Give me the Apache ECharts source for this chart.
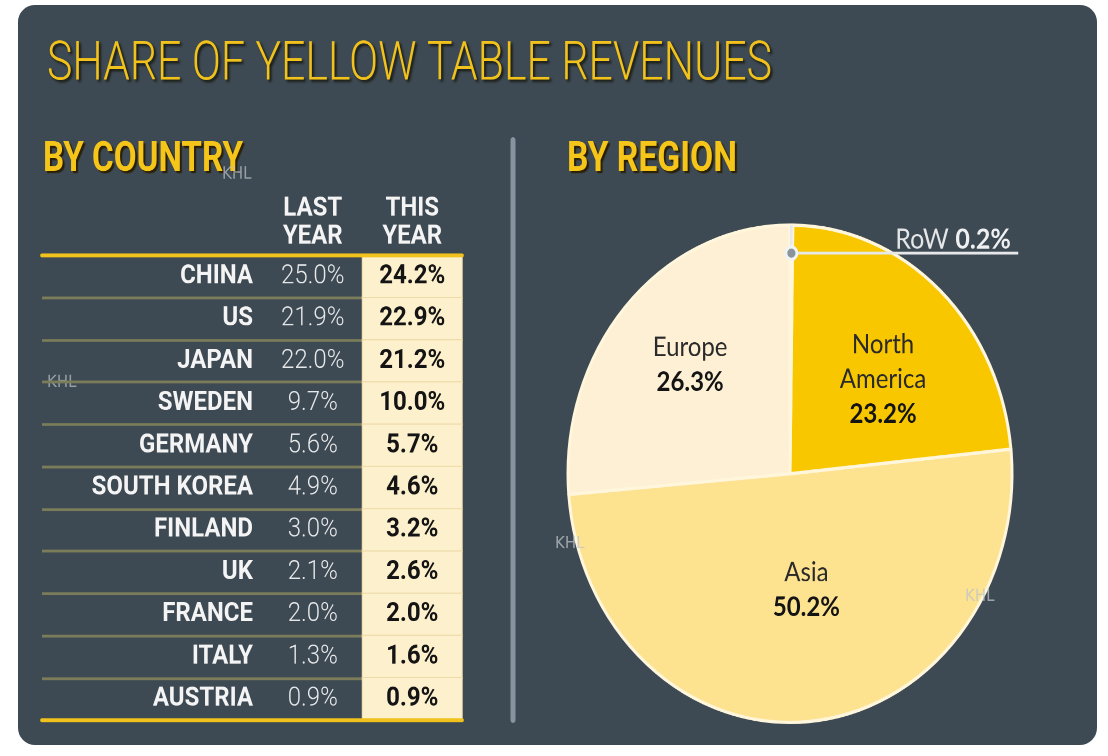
<!DOCTYPE html>
<html><head><meta charset="utf-8">
<script src="https://cdn.jsdelivr.net/npm/echarts@6/dist/echarts.min.js"></script>
<style>
html,body{margin:0;padding:0;background:#fff;overflow:hidden;width:1108px;height:756px;position:relative}
#panel{position:absolute;left:18px;top:5px;width:1079px;height:740px;border-radius:17px;background:#3e4a53}
#c{position:absolute;left:0;top:0;width:1108px;height:675px;transform:scaleY(1.12);transform-origin:0 0}
</style></head><body><div id="panel"></div><div id="c"></div>
<script>
// ---- data ----
const countries = ['CHINA','US','JAPAN','SWEDEN','GERMANY','SOUTH KOREA','FINLAND','UK','FRANCE','ITALY','AUSTRIA'];
const lastYear  = [25.0, 21.9, 22.0, 9.7, 5.6, 4.9, 3.0, 2.1, 2.0, 1.3, 0.9];
const thisYear  = [24.2, 22.9, 21.2, 10.0, 5.7, 4.6, 3.2, 2.6, 2.0, 1.6, 0.9];
const columns   = ['LAST\nYEAR', 'THIS\nYEAR'];
// listed counter-clockwise from 12 o'clock
const regions   = ['Europe', 'Asia', 'North America', 'RoW'];
const regionShare = [26.3, 50.2, 23.2, 0.2];
const titleText = 'SHARE OF YELLOW TABLE REVENUES';
const leftHeading = 'BY COUNTRY';
const rightHeading = 'BY REGION';
const watermark = 'KHL';

// ---- styles / layout ----
const TF = "Roboto,'Liberation Sans',sans-serif";
const SANS = "Lato,'Open Sans',sans-serif";
const YELLOW = '#f1c21b';
const regionColors = {'RoW':'#f8c700','North America':'#f8c700','Asia':'#fde290','Europe':'#fdf0d5'};
const labelShift = {'Europe':[-16,-20],'North America':[16,0],'Asia':[6,-10]};
const PIE_C = [790, 423];
const PIE_R = 222;
const LEAD_IN = 25;      // leader line starts this far inside the rim
const LEAD_LEN = 227;    // horizontal leader length

function fitScale(text, font, target) {
  const ctx = document.createElement('canvas').getContext('2d');
  ctx.font = font;
  return target / ctx.measureText(text).width;
}
const titleFont = "300 48px " + TF;
const headFont = "bold 37px " + TF;

const chart = echarts.init(document.getElementById('c'), null, {renderer:'canvas', devicePixelRatio:2});

// base pie: slices + inside labels
const pieData = regions.map((name, i) => {
  const item = {name: name, value: regionShare[i], itemStyle: {color: regionColors[name]}};
  if (name === 'RoW') {
    item.label = {show: false};
  } else {
    const s = labelShift[name] || [0,0];
    item.label = {
      position: 'inside',
      padding: [Math.max(0, 2*s[1]), Math.max(0, -2*s[0]), Math.max(0, -2*s[1]), Math.max(0, 2*s[0])]
    };
  }
  return item;
});
// overlay pie (transparent) that carries only the RoW leader label above the slices
const overlayData = regions.map((name, i) => {
  const item = {name: name, value: regionShare[i]};
  if (name === 'RoW') {
    item.label = {
      show: true,
      position: 'outside',
      distanceToLabelLine: -123,
      padding: [0, 0, 24, 0],
      formatter: p => '{n|' + p.name + '}  {b|' + p.value.toFixed(1) + '%}',
      rich: {
        n: {fontFamily: SANS, fontSize: 25, color: '#e4e6e8'},
        b: {fontFamily: SANS, fontSize: 25, fontWeight: 'bold', color: '#eef0f2'}
      }
    };
    item.labelLine = {show: true, length: -LEAD_IN, length2: LEAD_LEN, minTurnAngle: 0, maxSurfaceAngle: 180,
                      lineStyle: {color: '#e6e8ea', width: 2.6}};
  }
  return item;
});

// leader dot position derived from the RoW slice's mid angle
const total = regionShare.reduce((a, b) => a + b, 0);
const rowMidAngle = (regionShare[regionShare.length - 1] / total) * Math.PI; // radians right of 12 o'clock
const dotX = PIE_C[0] + PIE_R * Math.sin(rowMidAngle);
const dotY = PIE_C[1] - PIE_R * Math.cos(rowMidAngle) + LEAD_IN;

const headStyle = {font: headFont, fill: '#f6c519', verticalAlign: 'middle', align: 'left',
  textShadowColor:'rgba(40,30,0,0.95)', textShadowOffsetX:2, textShadowOffsetY:2, textShadowBlur:1};

const option = {
  animation: false,
  backgroundColor: 'transparent',
  graphic: [
    {type:'text', x: 47, y: 59, scaleX: fitScale(titleText, titleFont, 725),
     style:{text: titleText, font: titleFont, fill: YELLOW, verticalAlign:'middle', align:'left',
            textShadowColor:'rgba(20,20,10,0.9)', textShadowOffsetX:2, textShadowOffsetY:2, textShadowBlur:2}},
    {type:'text', x: 43, y: 143, scaleX: fitScale(leftHeading, headFont, 200), style: Object.assign({text: leftHeading}, headStyle)},
    {type:'text', x: 567, y: 143, scaleX: fitScale(rightHeading, headFont, 170), style: Object.assign({text: rightHeading}, headStyle)},
    {type:'line', shape:{x1:513, y1:125, x2:513, y2:643}, style:{stroke:'#8794a0', lineWidth:5, lineCap:'round'}},
    {type:'text', left: 222, top: 148, style:{text: watermark, font: "15px 'DejaVu Sans'", fill: 'rgba(190,196,202,0.7)'}},
    {type:'text', left: 47, top: 334, style:{text: watermark, font: "15px 'DejaVu Sans'", fill: 'rgba(190,196,202,0.7)'}},
    {type:'text', left: 555, top: 478, style:{text: watermark, font: "15px 'DejaVu Sans'", fill: 'rgba(190,196,202,0.75)'}, z: 100},
    {type:'text', left: 965, top: 525, style:{text: watermark, font: "15px 'DejaVu Sans'", fill: 'rgba(190,196,202,0.75)'}, z: 100},
    {type:'circle', z: 100, shape:{cx: dotX, cy: dotY, r: 5.5}, style:{fill:'#8b939b', stroke:'#f2f3f4', lineWidth:2.8}}
  ],
  grid: [
    {left: 42, top: 228, width: 420, height: 415},
    {left: 263, top: 228, width: 199, height: 415}
  ],
  xAxis: [
    {gridIndex:0, type:'value', min:0, max:1, position:'top', z:10, axisLine:{show:true, lineStyle:{color:YELLOW, width:3.6}}, axisTick:{show:false}, axisLabel:{show:false}, splitLine:{show:false}},
    {gridIndex:0, type:'value', min:0, max:1, position:'bottom', z:10, axisLine:{show:true, lineStyle:{color:YELLOW, width:3.6}}, axisTick:{show:false}, axisLabel:{show:false}, splitLine:{show:false}},
    {gridIndex:1, type:'category', data: columns, position:'top', axisLine:{show:false}, axisTick:{show:false},
     axisLabel:{color:'#f4f4f4', fontFamily:TF, fontWeight:'bold', fontSize:24, lineHeight:25, margin:4, interval:0}, splitLine:{show:false}}
  ],
  yAxis: [
    {gridIndex:0, type:'category', data: countries, inverse:true, axisLine:{show:false}, axisTick:{show:false}, axisLabel:{show:false, interval:0},
     splitLine:{show:true, interval:0, lineStyle:{color:'#7a7c5a', width:2.4}}},
    {gridIndex:1, type:'category', data: countries, inverse:true, axisLine:{show:false}, axisTick:{show:false},
     axisLabel:{color:'#f4f4f4', fontFamily:TF, fontWeight:'bold', fontSize:24, margin:10, interval:0}, splitLine:{show:false}}
  ],
  series: [
    {type:'heatmap', name:'Last year', xAxisIndex:2, yAxisIndex:1,
     data: lastYear.map((v,i) => [0, i, v]),
     itemStyle:{color:'rgba(0,0,0,0)'},
     label:{show:true, formatter: p => p.value[2].toFixed(1) + '%', color:'#e6e8ea', fontFamily:TF, fontWeight:300, fontSize:24}},
    {type:'heatmap', name:'This year', xAxisIndex:2, yAxisIndex:1,
     data: thisYear.map((v,i) => [1, i, v]),
     itemStyle:{color:'#fdf0cd', borderColor:'#eddaa8', borderWidth:1},
     label:{show:true, formatter: p => p.value[2].toFixed(1) + '%', color:'#141414', fontFamily:TF, fontWeight:'bold', fontSize:24}},
    {type:'pie', name:'By region', center:PIE_C, radius:PIE_R, startAngle:90, clockwise:false,
     avoidLabelOverlap:false, z: 2,
     itemStyle:{borderColor:'#fff6dc', borderWidth:3},
     label:{show:true, position:'inside',
       formatter: p => '{n|' + p.name.replace(' ', '\n') + '}\n{v|' + p.value.toFixed(1) + '%}',
       rich:{
         n:{fontFamily:SANS, fontSize:24, color:'#2a2a2a', lineHeight:31},
         v:{fontFamily:SANS, fontSize:24, fontWeight:'bold', color:'#141414', lineHeight:31}
       }},
     labelLine:{show:false},
     data: pieData},
    {type:'pie', name:'By region (leader)', center:PIE_C, radius:PIE_R, startAngle:90, clockwise:false,
     avoidLabelOverlap:false, silent:true, z: 5,
     itemStyle:{color:'rgba(0,0,0,0)', borderWidth:0},
     label:{show:false},
     labelLine:{show:false},
     data: overlayData}
  ]
};
chart.setOption(option);
</script></body></html>
